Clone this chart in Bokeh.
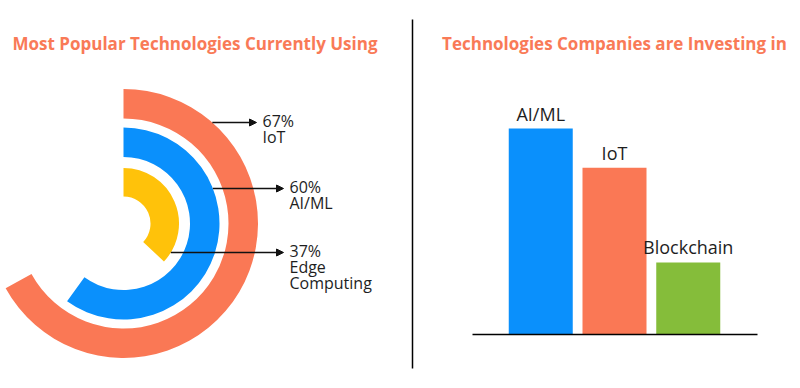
import math
from bokeh.plotting import figure
from bokeh.layouts import row
from bokeh.models import Range1d, FactorRange, Arrow, NormalHead
from bokeh.core.properties import value
from bokeh.embed import file_html
from bokeh.resources import INLINE

# ---------------- data ----------------
ring_names = ["IoT", "AI/ML", "Edge Computing"]
ring_pct = [67, 60, 37]
ring_colors = ["#FA7855", "#0A90FC", "#FFC20A"]

bar_cats = ["AI/ML", "IoT", "Blockchain"]
bar_vals = [100, 81, 35]
bar_colors = ["#0A90FC", "#FA7855", "#85BD3A"]

left_title = "Most Popular Technologies Currently Using"
right_title = "Technologies Companies are Investing in"

FONT = "Open Sans"
TITLE_COLOR = "#F97A57"
TEXT_COLOR = "#1E1E1E"
TDY = 7  # text baseline correction (px)

W, H = 800, 388
LW = 428
RW = W - LW


def sy(screen_y):
    return H - screen_y


def style(p):
    p.xaxis.visible = False
    p.yaxis.visible = False
    p.grid.visible = False
    p.outline_line_color = None
    p.background_fill_color = "white"
    p.border_fill_color = "white"


# ---------------- left: radial bars ----------------
lp = figure(width=LW, height=H, x_range=Range1d(0, LW), y_range=Range1d(0, H),
            output_backend="svg", toolbar_location=None, min_border=0)
style(lp)

cx, cy = 123, sy(223)
outer_r = [134.5, 96.0, 55.5]
inner_r = [105.0, 66.5, 27.0]

starts = [math.pi / 2 - 2 * math.pi * v / 100 for v in ring_pct]
lp.annular_wedge(x=[cx] * 3, y=[cy] * 3, inner_radius=inner_r, outer_radius=outer_r,
                 start_angle=starts, end_angle=[math.pi / 2] * 3,
                 fill_color=ring_colors, line_color=None)

lp.text(x=[194.5], y=[sy(49.5 - TDY)], text=[left_title], text_align="center",
        text_baseline="alphabetic", text_font=value(FONT), text_font_style="bold",
        text_font_size="17px", text_color=TITLE_COLOR)

arrow_sy = [122, 188, 252]
arrow_end = [256, 283, 283]
for i in range(3):
    ay = sy(arrow_sy[i])
    dy = ay - cy
    xs = cx + math.sqrt(outer_r[i] ** 2 - dy ** 2)
    lp.add_layout(Arrow(end=NormalHead(size=7, fill_color="#111111", line_color="#111111", line_width=1),
                        x_start=xs, y_start=ay, x_end=arrow_end[i], y_end=ay,
                        line_color="#111111", line_width=1.3))
    lines = [f"{ring_pct[i]}%"] + ring_names[i].split(" ")
    lx = arrow_end[i] + 6
    lp.text(x=[lx] * len(lines), y=[ay - 5 + TDY - 16 * k for k in range(len(lines))], text=lines,
            text_align="left", text_baseline="alphabetic", text_font=value(FONT),
            text_font_size="16px", text_color=TEXT_COLOR)

# divider
lp.segment(x0=[412], y0=[sy(19)], x1=[412], y1=[sy(368)], line_color="black", line_width=1.5)

# ---------------- right: bar chart ----------------
px_per_unit = 73.75
pad = (RW / px_per_unit - len(bar_cats)) / 2
kpx = 2.06  # px per value unit
base_sy = 334
rp = figure(width=RW, height=H,
            x_range=FactorRange(factors=bar_cats, range_padding=pad, range_padding_units="absolute"),
            y_range=Range1d(-(H - base_sy) / kpx, base_sy / kpx),
            output_backend="svg", toolbar_location=None, min_border=0)
style(rp)

rp.vbar(x=bar_cats, top=bar_vals, bottom=0, width=64 / px_per_unit,
        fill_color=bar_colors, line_color=None)
rp.text(x=bar_cats, y=bar_vals, text=bar_cats, text_align="center", text_baseline="alphabetic",
        y_offset=-9 - TDY + 1, text_font=value(FONT), text_font_size="18px", text_color=TEXT_COLOR)

x_left = -pad
rp.segment(x0=[x_left + (472 - LW) / px_per_unit], y0=[0],
           x1=[x_left + (757 - LW) / px_per_unit], y1=[0], line_color="black", line_width=1.5)

rp.text(x=[1.5], y=[(base_sy - 49.5 + TDY) / kpx], text=[right_title], text_align="center",
        text_baseline="alphabetic", text_font=value(FONT), text_font_style="bold",
        text_font_size="17px", text_color=TITLE_COLOR)

layout = row(lp, rp, spacing=0)
open("out.html", "w").write(file_html(layout, INLINE))
